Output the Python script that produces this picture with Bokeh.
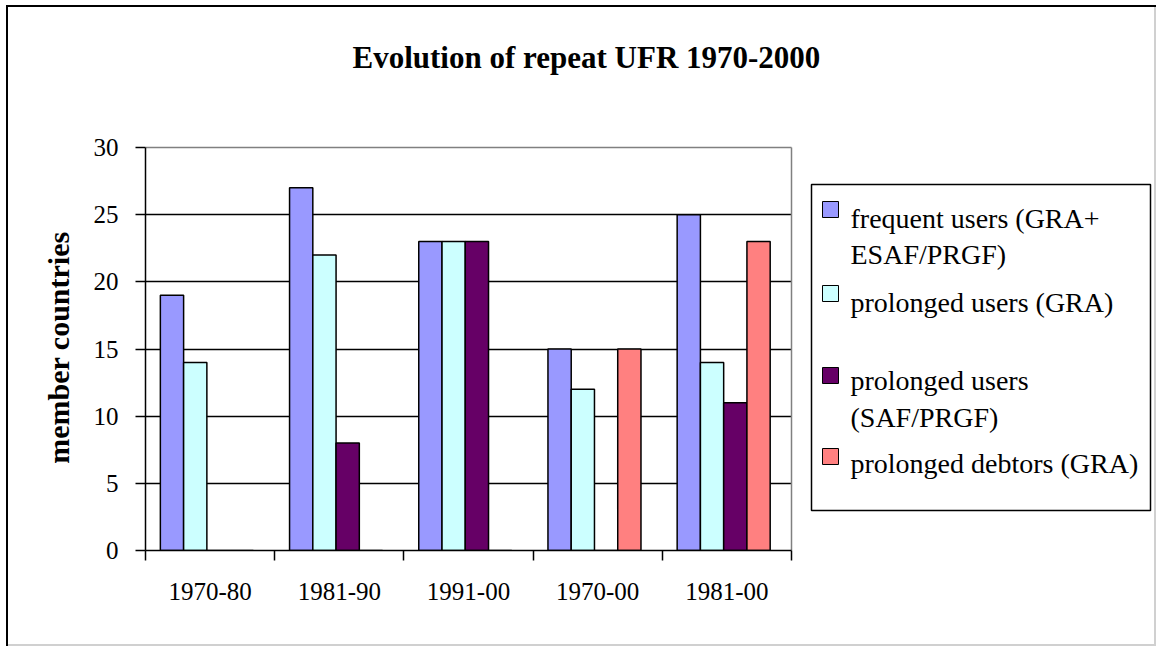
from bokeh.plotting import figure
from bokeh.models import ColumnDataSource, Range1d, FixedTicker, Grid, Title
from bokeh.transform import dodge
from bokeh.embed import file_html
from bokeh.resources import INLINE

# ---------------- data ----------------
categories = ["1970-80", "1981-90", "1991-00", "1970-00", "1981-00"]
frequent_users = [19, 27, 23, 15, 25]
prolonged_users_gra = [14, 22, 23, 12, 14]
prolonged_users_saf = [0, 8, 23, 0, 11]
prolonged_debtors_gra = [0, 0, 0, 15, 23]
series_names = ["frequent users (GRA+\nESAF/PRGF)", "prolonged users (GRA)",
                "prolonged users\n(SAF/PRGF)", "prolonged debtors (GRA)"]
y_ticks = [0, 5, 10, 15, 20, 25, 30]
title_text = "Evolution of repeat UFR 1970-2000"
y_label = "member countries"

# ---------------- styles / layout ----------------
colors = ["#9999FF", "#CCFFFF", "#660066", "#FF8080"]
SERIF = "Liberation Serif"
n = len(categories)
Y_MAX = 30

# page-pixel geometry of the chart
PLOT_L, PLOT_R, PLOT_T, PLOT_B = 145, 791, 147, 550   # value axes area
FRAME_T, FRAME_R = 144, 1155                         # drawing frame (also holds the legend)
FIG_W, FIG_H = 1159, 650

cat_px = (PLOT_R - PLOT_L) / n
val_px = (PLOT_B - PLOT_T) / Y_MAX
x_end = -0.5 + (FRAME_R - PLOT_L) / cat_px
y_end = Y_MAX + (PLOT_T - FRAME_T) / val_px

src = ColumnDataSource(dict(
    x=list(range(n)),
    s0=frequent_users, s1=prolonged_users_gra, s2=prolonged_users_saf, s3=prolonged_debtors_gra,
))

p = figure(frame_width=FRAME_R - PLOT_L, frame_height=PLOT_B - FRAME_T,
           min_border_left=PLOT_L, min_border_top=FRAME_T,
           min_border_right=FIG_W - FRAME_R, min_border_bottom=FIG_H - PLOT_B,
           x_range=Range1d(-0.5, x_end), y_range=Range1d(0, y_end),
           output_backend="svg", toolbar_location=None)
# pixel coordinate system for the legend
p.extra_x_ranges = {"px": Range1d(PLOT_L, FRAME_R)}
p.extra_y_ranges = {"px": Range1d(PLOT_B, FRAME_T)}

p.background_fill_color = None
p.border_fill_color = None
p.outline_line_color = None
p.styles = {"box-shadow": "inset 6px 5px 0 0 #ffffff, inset -3px -4px 0 0 #ffffff, "
                          "inset 8px 7px 0 0 #000000, inset -5px -6px 0 0 #d0d0d0"}

# title: a blank spacer panel next to the frame, then the real title above it
spacer = Title(text=" ", text_font=SERIF, text_font_size="20px", text_color="white",
               standoff=46)
p.add_layout(spacer, "above")
main_title = Title(text=title_text, text_font=SERIF, text_font_size="31px",
                   text_font_style="bold", text_color="black", align="left",
                   offset=207, standoff=0)
p.add_layout(main_title, "above")

# bars
W = 0.18
shift = -0.025
for k in range(4):
    off = (k - 1.5) * W + shift
    p.vbar(x=dodge("x", off, range=p.x_range), top="s%d" % k, width=W, bottom=0,
           fill_color=colors[k], line_color="black", line_width=1.5, source=src)

# grid lines and plot-area border (top / right, grey)
p.xgrid.visible = False
p.ygrid.ticker = FixedTicker(ticks=[t for t in y_ticks if 0 < t < Y_MAX])
p.ygrid.grid_line_color = "black"
p.ygrid.grid_line_width = 1.5
try:
    p.ygrid.cross_bounds = (-0.5, n - 0.5)
    top_edge = Grid(dimension=1, ticker=FixedTicker(ticks=[Y_MAX]), cross_bounds=(-0.5, n - 0.5),
                    grid_line_color="#808080", grid_line_width=1.5)
    right_edge = Grid(dimension=0, ticker=FixedTicker(ticks=[n - 0.5]), cross_bounds=(0, Y_MAX),
                      grid_line_color="#808080", grid_line_width=1.5)
    p.add_layout(top_edge)
    p.add_layout(right_edge)
except Exception:
    p.ygrid.visible = False
    gy = [t for t in y_ticks if 0 < t < Y_MAX]
    p.segment(x0=[-0.5] * len(gy), x1=[n - 0.5] * len(gy), y0=gy, y1=gy,
              line_color="black", line_width=1.5)
    p.segment(x0=[-0.5, n - 0.5], x1=[n - 0.5, n - 0.5], y0=[Y_MAX, 0], y1=[Y_MAX, Y_MAX],
              line_color="#808080", line_width=1.5)

# y axis
ya = p.yaxis[0]
ya.bounds = (0, Y_MAX)
ya.ticker = FixedTicker(ticks=y_ticks, minor_ticks=[])
ya.axis_line_color = "black"
ya.axis_line_width = 1.5
ya.major_tick_line_color = "black"
ya.major_tick_line_width = 1.5
ya.major_tick_out = 10
ya.major_tick_in = 0
ya.minor_tick_line_color = None
ya.major_label_standoff = 17
ya.major_label_text_font = SERIF
ya.major_label_text_font_size = "25px"
ya.major_label_text_color = "black"
ya.axis_label = y_label
ya.axis_label_text_font = SERIF
ya.axis_label_text_font_size = "30px"
ya.axis_label_text_font_style = "bold"
ya.axis_label_text_color = "black"
ya.axis_label_standoff = 16

# x axis
xa = p.xaxis[0]
xa.bounds = (-0.5, n - 0.5)
xa.ticker = FixedTicker(ticks=list(range(n)), minor_ticks=[i - 0.5 for i in range(n + 1)])
xa.major_label_overrides = {i: c for i, c in enumerate(categories)}
xa.axis_line_color = "black"
xa.axis_line_width = 1.5
xa.major_tick_line_color = None
xa.major_tick_out = 0
xa.major_tick_in = 0
xa.minor_tick_line_color = "black"
xa.minor_tick_line_width = 1.5
xa.minor_tick_out = 10
xa.minor_tick_in = 0
xa.major_label_standoff = 22
xa.major_label_text_font = SERIF
xa.major_label_text_font_size = "25px"
xa.major_label_text_color = "black"

# legend
p.quad(left=[811], right=[1150], top=[184], bottom=[510], x_range_name="px", y_range_name="px",
       fill_color="white", line_color="black", line_width=1.5)
swatch_tops = [201, 285, 367, 448]
baselines = [[218, 254], [302], [380, 417], [463]]
p.quad(left=[822] * 4, right=[838] * 4, top=swatch_tops, bottom=[t + 16 for t in swatch_tops],
       x_range_name="px", y_range_name="px",
       fill_color=colors, line_color="black", line_width=1)
tx, ty, tt = [], [], []
for k, name in enumerate(series_names):
    for line, b in zip(name.split("\n"), baselines[k]):
        tx.append(850)
        ty.append(b)
        tt.append(line)
p.text(x=tx, y=ty, text=tt, x_range_name="px", y_range_name="px",
       text_font={"value": SERIF}, text_font_size="28px",
       text_color="black", text_baseline="alphabetic", text_align="left")

open("out.html", "w").write(file_html(p, INLINE))
